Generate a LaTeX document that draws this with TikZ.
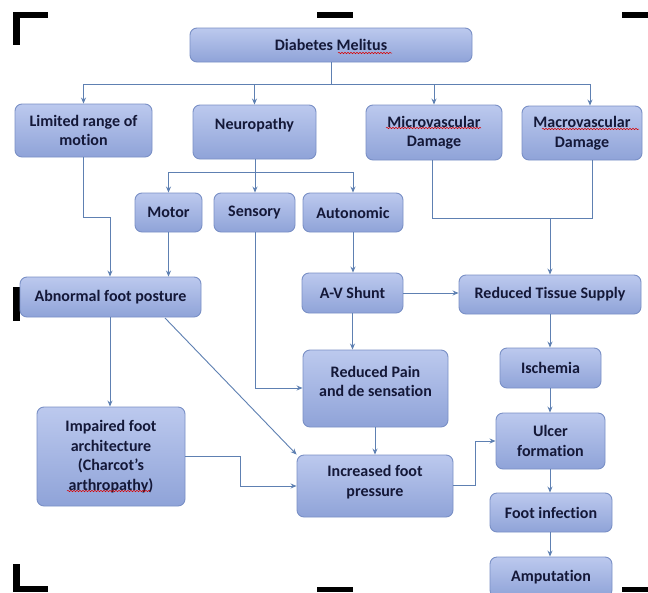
\documentclass[tikz,border=0pt]{standalone}
\usepackage{fontspec}
\setmainfont{Carlito}[Ligatures={NoCommon},BoldFont={Carlito Bold}]
\usetikzlibrary{arrows.meta,decorations.pathmorphing}
\definecolor{boxtop}{HTML}{BCC9EE}
\definecolor{boxbot}{HTML}{8FA3D8}
\definecolor{boxedge}{HTML}{7A90C6}
\definecolor{txt}{HTML}{141838}
\definecolor{arrc}{HTML}{5E80B2}
\tikzset{
  box/.style={draw=boxedge, line width=0.9pt, rounded corners=7pt, top color=boxtop, bottom color=boxbot, inner sep=0pt},
  lbl/.style={font=\bfseries\fontsize{16}{19.5}\selectfont, text=txt, align=center, inner sep=0pt},
  ln/.style={draw=arrc, line width=0.9pt},
  arr/.style={ln, -{Stealth[length=6pt,width=5pt]}},
  squig/.style={draw=red!85!black, line width=0.5pt, decorate, decoration={snake, segment length=3pt, amplitude=0.7pt}},
  cropmark/.style={fill=black, draw=none}
}
% \bx[yshift of text]{name}{x1}{y1}{x2}{y2}{text}
\newcommand{\bx}[7][0]{%
  \pgfmathsetmacro{\bw}{#5-#3}\pgfmathsetmacro{\bh}{#6-#4}%
  \pgfmathsetmacro{\cx}{(#3+#5)/2}\pgfmathsetmacro{\cy}{(#4+#6)/2}%
  \node[box, minimum width=\bw pt, minimum height=\bh pt] (#2) at (\cx,\cy) {};
  \node[lbl, yshift=#1pt] (#2-t) at (#2.center) {#7};
}
\begin{document}
\begin{tikzpicture}[x=1pt,y=-1pt]
\useasboundingbox (0,0) rectangle (648,592);
\fill[white] (0,0) rectangle (648,592);
% crop marks
\fill[cropmark] (13,12) rectangle (48,18);
\fill[cropmark] (13,12) rectangle (20,45);
\fill[cropmark] (317,12) rectangle (353,18);
\fill[cropmark] (622,12) rectangle (648,18);
\fill[cropmark] (13,287) rectangle (20,321);
\fill[cropmark] (13,564) rectangle (20,592);
\fill[cropmark] (13,586) rectangle (48,592);
\fill[cropmark] (317,587) rectangle (353,592);
\fill[cropmark] (622,587) rectangle (648,592);

% boxes
\bx{dm}{190}{28}{472}{62}{Diabetes Melitus}
\bx{lim}{15}{104}{152}{157}{Limited range of\\motion}
\bx[7]{neu}{193}{105}{316}{159}{Neuropathy}
\bx{mic}{366}{105}{502}{160}{Microvascular\\Damage}
\bx{mac}{522}{106}{642}{160}{Macrovascular\\Damage}
\bx{mot}{135}{193}{202}{232}{Motor}
\bx{sen}{214}{193}{295}{232}{Sensory}
\bx{aut}{303}{193}{403}{232}{Autonomic}
\bx{abn}{20}{277}{201}{317}{Abnormal foot posture}
\bx{avs}{302}{273}{403}{313}{A-V Shunt}
\bx{rts}{459}{275}{641}{314}{Reduced Tissue Supply}
\bx[7]{rp}{303}{350}{448}{427}{Reduced Pain\\and de sensation}
\bx{isc}{500}{348}{601}{388}{Ischemia}
\bx{imp}{37}{407}{185}{506}{Impaired foot\\architecture\\(Charcot's\\arthropathy)}
\bx{ulc}{496}{413}{605}{469}{Ulcer\\formation}
\bx[4]{inc}{297}{455}{453}{517}{Increased foot\\pressure}
\bx{inf}{490}{493}{612}{532}{Foot infection}
\bx{amp}{490}{557}{612}{597}{Amputation}

% spell-check squiggles
\draw[squig] (338,53) -- (392,53);
\draw[squig] (386,128) -- (481,128);
\draw[squig] (542,129) -- (639,129);
\draw[squig] (67,491) -- (150,491);

% junction coordinates
\coordinate (j1) at (331,84);
\coordinate (jm) at (590,84);
\coordinate (j2) at (255,172);
\coordinate (jl) at (83,217);
\coordinate (jl2) at (110,217);
\coordinate (jv) at (432,218);
\coordinate (jv2) at (592,218);
\coordinate (jv3) at (550,218);
\coordinate (jsen) at (255,388);
\coordinate (jimp) at (240,456);
\coordinate (jinc) at (475,485);
\coordinate (jab) at (165,318);
\coordinate (jrp) at (375,440);

% connectors
\draw[ln] (dm.south -| j1) -- (j1);
\draw[arr] (j1) -| (lim.north);
\draw[arr] (j1) -| (neu.north);
\draw[arr] (j1) -| (mic.north);
\draw[arr] (j1) -- (jm) -- (mac.north -| jm);

\draw[ln] (neu.south -| j2) -- (j2);
\draw[arr] (j2) -| (mot.north);
\draw[arr] (j2) -- (sen.north -| j2);
\draw[arr] (j2) -| (aut.north);

\draw[arr] (lim.south -| jl) -- (jl) -- (jl2) -- (abn.north -| jl2);
\draw[arr] (mot.south) -- (abn.north -| mot.south);

\draw[ln] (mic.south -| jv) -- (jv) -- (jv2) -- (mac.south -| jv2);
\draw[arr] (jv3) -- (rts.north -| jv3);

\draw[arr] (aut.south) -- (avs.north -| aut.south);
\draw[arr] (avs.east) -- (rts.west |- avs.east);
\draw[arr] (avs.south) -- (rp.north -| avs.south);
\draw[arr] (sen.south -| jsen) -- (jsen) -- (rp.west |- jsen);

\draw[arr] (abn.south -| jl2) -- (imp.north -| jl2);
\draw[arr] (jab) -- (inc.north west);
\draw[arr] (imp.east |- jimp) -- (jimp) |- (inc.west);
\draw[arr] (rp.south -| jrp) -- (inc.north -| jrp);

\draw[arr] (rts.south -| jv3) -- (isc.north -| jv3);
\draw[arr] (isc.south -| jv3) -- (ulc.north -| jv3);
\draw[arr] (inc.east |- jinc) -- (jinc) |- (ulc.west);
\draw[arr] (ulc.south -| jv3) -- (inf.north -| jv3);
\draw[arr] (inf.south -| jv3) -- (amp.north -| jv3);
\end{tikzpicture}
\end{document}
